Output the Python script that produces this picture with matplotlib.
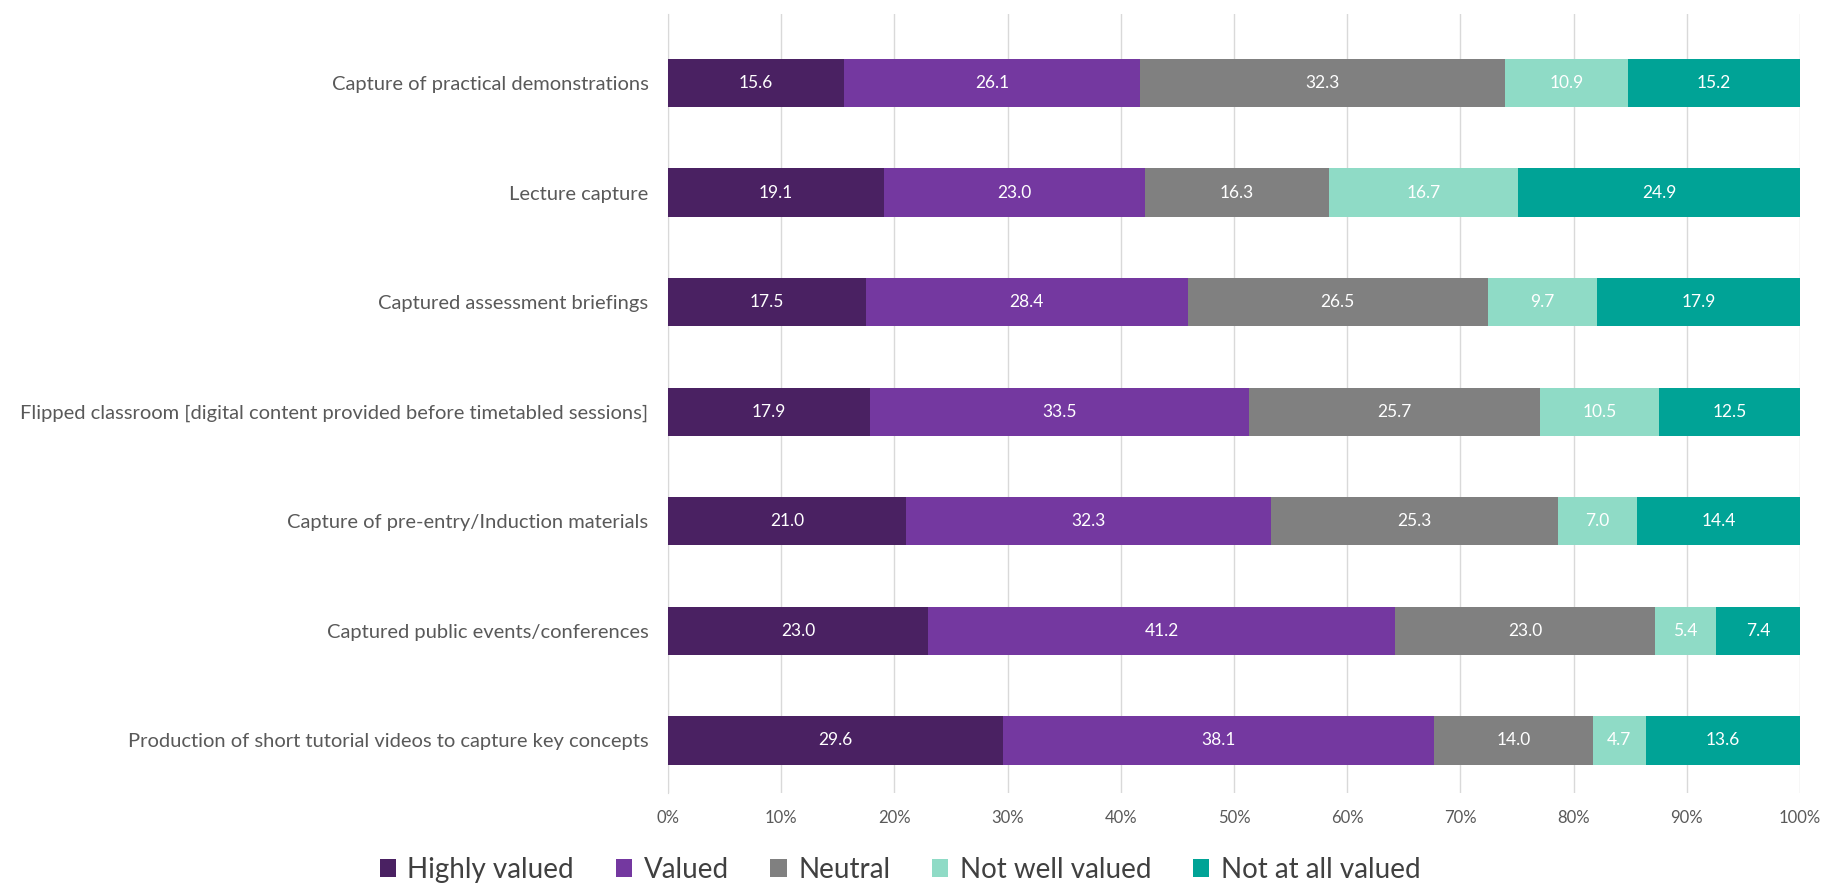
import matplotlib.pyplot as plt
import numpy as np

categories = [
    "Capture of practical demonstrations",
    "Lecture capture",
    "Captured assessment briefings",
    "Flipped classroom [digital content provided before timetabled sessions]",
    "Capture of pre-entry/Induction materials",
    "Captured public events/conferences",
    "Production of short tutorial videos to capture key concepts",
]
series_names = ["Highly valued", "Valued", "Neutral", "Not well valued", "Not at all valued"]
highly_valued = [15.6, 19.1, 17.5, 17.9, 21.0, 23.0, 29.6]
valued = [26.1, 23.0, 28.4, 33.5, 32.3, 41.2, 38.1]
neutral = [32.3, 16.3, 26.5, 25.7, 25.3, 23.0, 14.0]
not_well_valued = [10.9, 16.7, 9.7, 10.5, 7.0, 5.4, 4.7]
not_at_all_valued = [15.2, 24.9, 17.9, 12.5, 14.4, 7.4, 13.6]

colors = ["#4A2162", "#7438A0", "#808080", "#8FDBC6", "#00A396"]

plt.rcParams['font.family'] = ['Lato', 'DejaVu Sans']

fig = plt.figure(figsize=(18.29, 8.94), dpi=100)
ax = fig.add_axes([668 / 1829, 1 - 793 / 894, (1800 - 668) / 1829, (793 - 14) / 894])

y = np.arange(len(categories))
left = np.zeros(len(categories))
total = np.array(highly_valued) + np.array(valued) + np.array(neutral) \
    + np.array(not_well_valued) + np.array(not_at_all_valued)
for name, vals, col in zip(series_names,
                           [highly_valued, valued, neutral, not_well_valued, not_at_all_valued],
                           colors):
    vals = np.array(vals)
    w = vals / total
    bars = ax.barh(y, w, left=left, height=0.44, color=col, label=name, zorder=3)
    for b, v in zip(bars, vals):
        ax.text(b.get_x() + b.get_width() / 2, b.get_y() + b.get_height() / 2,
                f"{v:.1f}", ha='center', va='center', color='white', fontsize=12.5, zorder=4)
    left += w

ax.set_xlim(0, 1)
ax.set_ylim(6.48, -0.63)
ax.set_xticks(np.arange(0, 1.01, 0.1))
ax.set_xticklabels([f"{int(round(t * 100))}%" for t in np.arange(0, 1.01, 0.1)])
ax.set_yticks(y)
ax.set_yticklabels(categories)
ax.tick_params(axis='both', length=0, colors='#595959')
ax.tick_params(axis='y', pad=14, labelsize=14.5)
ax.tick_params(axis='x', pad=12, labelsize=12)
ax.grid(axis='x', color='#D9D9D9', linewidth=1, zorder=0)
for s in ['top', 'right', 'bottom']:
    ax.spines[s].set_visible(False)
ax.spines['left'].set_color('#D9D9D9')

fig.legend(loc='center', bbox_to_anchor=(0.492, 1 - 870 / 894), ncol=5, frameon=False,
           fontsize=20, handlelength=0.6, handleheight=0.6, handletextpad=0.4,
           columnspacing=1.5, labelcolor='#404040')

plt.savefig('out.png', dpi=100)
